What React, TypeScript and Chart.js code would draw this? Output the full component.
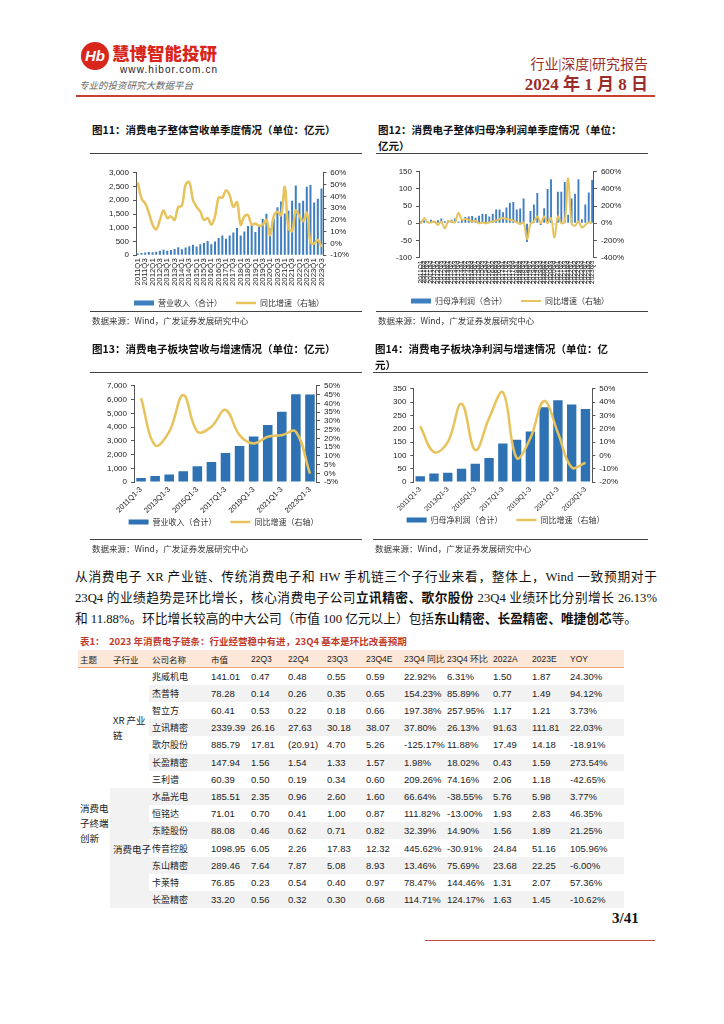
import React, { useEffect, useRef } from "react";
import { Chart, registerables } from "chart.js";
Chart.register(...registerables);

// ---------- DATA ----------
const quarterLabels = [
  "2011Q1","2011Q2","2011Q3","2011Q4","2012Q1","2012Q2","2012Q3","2012Q4",
  "2013Q1","2013Q2","2013Q3","2013Q4","2014Q1","2014Q2","2014Q3","2014Q4",
  "2015Q1","2015Q2","2015Q3","2015Q4","2016Q1","2016Q2","2016Q3","2016Q4",
  "2017Q1","2017Q2","2017Q3","2017Q4","2018Q1","2018Q2","2018Q3","2018Q4",
  "2019Q1","2019Q2","2019Q3","2019Q4","2020Q1","2020Q2","2020Q3","2020Q4",
  "2021Q1","2021Q2","2021Q3","2021Q4","2022Q1","2022Q2","2022Q3","2022Q4",
  "2023Q1","2023Q2","2023Q3",
];
const revenueQ = [
  60, 80, 100, 120, 110, 130, 160, 200, 160, 190, 230, 290, 220, 280, 330, 380,
  320, 400, 450, 520, 400, 500, 630, 720, 600, 720, 830, 990, 720, 860, 1060, 1100,
  850, 1050, 1320, 1510, 980, 1330, 1750, 1960, 1520, 1620, 1980, 2540, 1900, 1980, 2490, 2560,
  1920, 2060, 2430,
];
const revenueYoY = [
  52, 38, 34, 26, 16, 12, 20, 28, 21.5, 23, 20, 31, 32, 50, 52, 37,
  31, 27, 20, 21.5, 16, 23, 39, 39, 45, 41, 31, 35, 16, 23, 24, 16,
  17, 15, 16, 20, 7, 23, 27, 24, 48, 13, 10.5, 28, 23, 19, 26, 1,
  0, 3, -3,
];
const netProfitQ = [
  5, 8, 6, 10, 4, 9, 14, 6, 8, 10, 14, 5, 12, 18, 20, 21,
  16, 22, 28, 27, 20, 28, 40, 40, 32, 46, 60, 62, 40, 43, 72, -55,
  36, 55, 88, -5, 44, 100, 128, -3, 92, 92, 120, 25, 72, 86, 128, 12,
  55, 90, 126,
];
const netProfitYoY = [
  -10, 60, 10, 10, 20, -20, 20, -60, 20, 20, 10, 120, 40, 50, 40, 20,
  30, 0, 10, 0, 10, 20, 30, 50, 60, 50, 40, 30, 10, -10, 10, -185,
  -10, 20, 80, 0, 80, 0, 60, -165, 80, 0, 20, 525, 0, -30, 20, -50,
  -20, 10, 0,
];
const periodLabels = [
  "2011Q1-3","2012Q1-3","2013Q1-3","2014Q1-3","2015Q1-3","2016Q1-3","2017Q1-3",
  "2018Q1-3","2019Q1-3","2020Q1-3","2021Q1-3","2022Q1-3","2023Q1-3",
];
const sectorRevenue = [290, 440, 540, 780, 1150, 1460, 2120, 2630, 3320, 4150, 5120, 6390, 6370];
const sectorRevenueYoY = [42.9, 16, 23.8, 44.8, 23.8, 26.6, 36.2, 21.8, 17, 20.9, 21.8, 23.8, -0.2];
const sectorProfit = [22, 32, 35, 50, 69, 90, 145, 159, 190, 281, 307, 291, 274];
const sectorProfitYoY = [22, 2.5, 10, 38.8, 4, 28, 47.5, -1.8, 13, 40.8, 17, -9, -5.5];

const tableHeaders = ["主题","子行业","公司名称","市值","22Q3","22Q4","23Q3","23Q4E","23Q4 同比","23Q4 环比","2022A","2023E","YOY"];
const companies = ["兆威机电","杰普特","智立方","立讯精密","歌尔股份","长盈精密","三利谱","水晶光电","恒铭达","东睦股份","传音控股","东山精密","卡莱特","长盈精密"];
const marketCap = ["141.01","78.28","60.41","2339.39","885.79","147.94","60.39","185.51","71.01","88.08","1098.95","289.46","76.85","33.20"];
const profit22Q3 = ["0.47","0.14","0.53","26.16","17.81","1.56","0.50","2.35","0.70","0.46","6.05","7.64","0.23","0.56"];
const profit22Q4 = ["0.48","0.26","0.22","27.63","(20.91)","1.54","0.19","0.96","0.41","0.62","2.26","7.87","0.54","0.32"];
const profit23Q3 = ["0.55","0.35","0.18","30.18","4.70","1.33","0.34","2.60","1.00","0.71","17.83","5.08","0.40","0.30"];
const profit23Q4E = ["0.59","0.65","0.66","38.07","5.26","1.57","0.60","1.60","0.87","0.82","12.32","8.93","0.97","0.68"];
const yoy23Q4 = ["22.92%","154.23%","197.38%","37.80%","-125.17%","1.98%","209.26%","66.64%","111.82%","32.39%","445.62%","13.46%","78.47%","114.71%"];
const qoq23Q4 = ["6.31%","85.89%","257.95%","26.13%","11.88%","18.02%","74.16%","-38.55%","-13.00%","14.90%","-30.91%","75.69%","144.46%","124.17%"];
const profit2022A = ["1.50","0.77","1.17","91.63","17.49","0.43","2.06","5.76","1.93","1.56","24.84","23.68","1.31","1.63"];
const profit2023E = ["1.87","1.49","1.21","111.81","14.18","1.59","1.18","5.98","2.83","1.89","51.16","22.25","2.07","1.45"];
const yoyYear = ["24.30%","94.12%","3.73%","22.03%","-18.91%","273.54%","-42.65%","3.77%","46.35%","21.25%","105.96%","-6.00%","57.36%","-10.62%"];

// ---------- STYLE ----------
const NUM = "'Liberation Sans', Arial, sans-serif";
const CJK = "'Noto Sans CJK SC', 'Liberation Sans', sans-serif";
const SERIF = "'Liberation Serif', 'Noto Sans CJK SC', serif";
const GOLD = "#e6c35c";
const TICK = "#222";

type AxisSpec = { min: number; max: number; step: number; pct?: boolean; comma?: boolean };
type Params = {
  labels: string[]; bars: number[]; line: number[];
  barName: string; lineName: string;
  left: AxisSpec; right: AxisSpec;
  xEvery: number; xRot: number; xFont: number;
  barPct: number; lineWidth: number; tension: number; barColor: string;
  padding: { left: number; right: number; top: number; bottom: number };
  legendPad: number;
};

function fmt(v: number, a: AxisSpec) {
  if (a.pct) return v + "%";
  if (a.comma) return v.toLocaleString("en-US");
  return String(v);
}

function yAxis(a: AxisSpec, pos: "left" | "right") {
  return {
    position: pos,
    min: a.min,
    max: a.max,
    ticks: {
      stepSize: a.step,
      autoSkip: false,
      font: { family: NUM, size: 8 },
      color: TICK,
      padding: 4,
      callback: (v: any) => fmt(Number(v), a),
    },
    grid: { drawOnChartArea: false, drawTicks: true, tickLength: 3, color: "#555" },
    border: { display: true, color: "#555", width: 1 },
  };
}

function buildConfig(p: Params): any {
  return {
    type: "bar",
    data: {
      labels: p.labels,
      datasets: [
        {
          type: "bar", label: p.barName, data: p.bars, backgroundColor: p.barColor,
          borderWidth: 0, yAxisID: "y", order: 2, barPercentage: p.barPct,
          categoryPercentage: 1, pointStyle: "rect",
        },
        {
          type: "line", label: p.lineName, data: p.line, borderColor: GOLD,
          backgroundColor: GOLD, borderWidth: p.lineWidth, pointRadius: 0,
          pointStyle: "line", tension: p.tension, yAxisID: "y1", order: 1,
        },
      ],
    },
    options: {
      animation: false,
      responsive: true,
      maintainAspectRatio: false,
      layout: { padding: p.padding },
      plugins: {
        tooltip: { enabled: false },
        legend: {
          position: "bottom",
          labels: {
            usePointStyle: true, pointStyleWidth: 20, boxWidth: 20, boxHeight: 5,
            padding: p.legendPad, color: "#333", font: { family: CJK, size: 8 },
            sort: (a: any, b: any) => a.datasetIndex - b.datasetIndex,
          },
        },
      },
      scales: {
        x: {
          grid: { display: false, drawTicks: false },
          border: { display: false },
          ticks: {
            autoSkip: false, maxRotation: p.xRot, minRotation: p.xRot,
            font: { family: NUM, size: p.xFont }, color: TICK, padding: 3,
            callback: (_v: any, i: number) => (i % p.xEvery === 0 ? p.labels[i] : ""),
          },
        },
        y: yAxis(p.left, "left"),
        y1: yAxis(p.right, "right"),
      },
    },
  };
}

function DualChart({ params, box }: { params: Params; box: { left: number; top: number; width: number; height: number } }) {
  const ref = useRef<HTMLCanvasElement>(null);
  useEffect(() => {
    const chart = new Chart(ref.current as HTMLCanvasElement, buildConfig(params));
    return () => chart.destroy();
  }, []);
  return (
    <div style={{ position: "absolute", ...box }}>
      <canvas ref={ref} />
    </div>
  );
}

const abs = (left: number, top: number, extra: React.CSSProperties = {}): React.CSSProperties => ({
  position: "absolute", left, top, whiteSpace: "nowrap", ...extra,
});

function HLine({ left, top, width, color = "#444", h = 1 }: { left: number; top: number; width: number; color?: string; h?: number }) {
  return <div style={{ position: "absolute", left, top, width, height: h, background: color }} />;
}

const titleStyle: React.CSSProperties = { fontFamily: CJK, fontWeight: 700, fontSize: 10.5, color: "#111", lineHeight: "16px" };
const srcStyle: React.CSSProperties = { fontFamily: CJK, fontSize: 8.5, color: "#333" };

const colX = [80, 113, 152, 211, 251, 288, 327, 366, 404, 447, 493, 532, 570];
const TABLE_L = 78, TABLE_R = 624, HEAD_TOP = 650, HEAD_H = 17, ROW_TOP = 667.5, ROW_H = 17.2;
const STRIPE_L = 149, MERGE_L = 110;

function Table() {
  const cols = [marketCap, profit22Q3, profit22Q4, profit23Q3, profit23Q4E, yoy23Q4, qoq23Q4, profit2022A, profit2023E, yoyYear];
  const cells: React.ReactNode[] = [];
  companies.forEach((_, r) => {
    if (r % 2 === 1) {
      cells.push(<div key={"s" + r} style={{ position: "absolute", left: STRIPE_L, top: ROW_TOP + r * ROW_H, width: TABLE_R - STRIPE_L, height: ROW_H, background: "#f2f2f2" }} />);
    }
  });
  cells.push(<div key="merged" style={{ position: "absolute", left: MERGE_L, top: ROW_TOP + 7 * ROW_H, width: STRIPE_L - MERGE_L, height: 7 * ROW_H, background: "#f2f2f2" }} />);
  cells.push(<div key="hbg" style={{ position: "absolute", left: TABLE_L, top: HEAD_TOP, width: TABLE_R - TABLE_L, height: HEAD_H, background: "#fce7d8", borderBottom: "1.5px solid #eea477" }} />);
  tableHeaders.forEach((h, i) => {
    cells.push(<div key={"h" + i} style={abs(colX[i], HEAD_TOP + 2, { fontFamily: i < 4 ? CJK : NUM, fontSize: 8.5, color: "#222", lineHeight: "14px" })}>{h}</div>);
  });
  companies.forEach((c, r) => {
    const y = ROW_TOP + r * ROW_H + 2;
    cells.push(<div key={"c" + r} style={abs(colX[2], y, { fontFamily: CJK, fontSize: 9, color: "#222", lineHeight: "14px" })}>{c}</div>);
    cols.forEach((col, k) => {
      cells.push(<div key={"v" + r + "-" + k} style={abs(colX[3 + k], y, { fontFamily: NUM, fontSize: 9.5, color: "#222", lineHeight: "14px" })}>{col[r]}</div>);
    });
  });
  cells.push(<div key="xr" style={abs(colX[1], ROW_TOP + 3 * ROW_H - 6, { fontFamily: CJK, fontSize: 9.5, color: "#222", lineHeight: "15px" })}>XR 产业<br />链</div>);
  cells.push(<div key="ce" style={abs(colX[1], ROW_TOP + 10 * ROW_H + 2, { fontFamily: CJK, fontSize: 9.5, color: "#222", lineHeight: "14px" })}>消费电子</div>);
  cells.push(<div key="zt" style={abs(colX[0], 801, { fontFamily: CJK, fontSize: 9.5, color: "#222", lineHeight: "15px" })}>消费电<br />子终端<br />创新</div>);
  return <>{cells}</>;
}

const SP = "\u3000";
const chart11: Params = {
  labels: quarterLabels, bars: revenueQ, line: revenueYoY,
  barName: "营业收入（合计）" + SP, lineName: "同比增速（右轴）",
  left: { min: 0, max: 3000, step: 500, comma: true }, right: { min: -10, max: 60, step: 10, pct: true },
  xEvery: 2, xRot: 90, xFont: 7.8, barPct: 0.55, lineWidth: 2.5, tension: 0.4, barColor: "#3f7fc0",
  padding: { left: 13, right: 7, top: 8, bottom: 0 }, legendPad: 10,
};
const chart12: Params = {
  labels: quarterLabels, bars: netProfitQ, line: netProfitYoY,
  barName: "归母净利润（合计）" + SP, lineName: "同比增速（右轴）",
  left: { min: -100, max: 150, step: 50 }, right: { min: -400, max: 600, step: 200, pct: true },
  xEvery: 1, xRot: 90, xFont: 6.6, barPct: 0.55, lineWidth: 2, tension: 0.4, barColor: "#3f7fc0",
  padding: { left: 12, right: 8, top: 7, bottom: 0 }, legendPad: 10,
};
const chart13: Params = {
  labels: periodLabels, bars: sectorRevenue, line: sectorRevenueYoY,
  barName: "营业收入（合计）" + SP + SP + " ", lineName: "同比增速（右轴）",
  left: { min: 0, max: 7000, step: 1000, comma: true }, right: { min: -5, max: 50, step: 5, pct: true },
  xEvery: 2, xRot: 45, xFont: 7.5, barPct: 0.68, lineWidth: 2.5, tension: 0.4, barColor: "#2e72b3",
  padding: { left: 11, right: 6, top: 6, bottom: 0 }, legendPad: 0,
};
const chart14: Params = {
  labels: periodLabels, bars: sectorProfit, line: sectorProfitYoY,
  barName: "归母净利润（合计）" + SP + SP + " ", lineName: "同比增速（右轴）",
  left: { min: 0, max: 350, step: 50 }, right: { min: -20, max: 50, step: 10, pct: true },
  xEvery: 2, xRot: 45, xFont: 7, barPct: 0.68, lineWidth: 2.5, tension: 0.4, barColor: "#2e72b3",
  padding: { left: 11, right: 6, top: 6, bottom: 0 }, legendPad: 0,
};

export default function App() {
  return (
    <div style={{ position: "absolute", left: 0, top: 0, width: 724, height: 1024, background: "#fff", overflow: "hidden" }}>
      {/* header */}
      <div style={{ position: "absolute", left: 81, top: 42, width: 28, height: 28, borderRadius: "50%", background: "#d9261c", color: "#fff", fontFamily: NUM, fontWeight: 700, fontStyle: "italic", fontSize: 15, lineHeight: "28px", textAlign: "center" }}>Hb</div>
      <div style={abs(112, 42, { fontFamily: CJK, fontWeight: 900, fontSize: 17.5, color: "#d9261c", lineHeight: "22px" })}>慧博智能投研</div>
      <div style={abs(120, 64, { fontFamily: NUM, fontSize: 10, color: "#222", letterSpacing: 1.1 })}>www.hibor.com.cn</div>
      <div style={abs(79, 78, { fontFamily: CJK, fontSize: 9.5, color: "#666", fontStyle: "italic" })}>专业的投资研究大数据平台</div>
      <div style={abs(0, 53, { right: 76, left: "auto", fontFamily: SERIF, fontSize: 14, color: "#9b2d2a" } as any)}>行业|深度|研究报告</div>
      <div style={abs(0, 70, { right: 76, left: "auto", fontFamily: SERIF, fontWeight: 700, fontSize: 17, color: "#9b2d2a" } as any)}>2024 年 1 月 8 日</div>
      <HLine left={76} top={95} width={579} h={2} color="#c8402f" />

      {/* chart 11 */}
      <div style={abs(92, 122, titleStyle)}>图11：消费电子整体营收单季度情况（单位：亿元）</div>
      <HLine left={90} top={153} width={272} />
      <DualChart params={chart11} box={{ left: 92, top: 164, width: 268, height: 153 }} />
      <HLine left={90} top={311} width={272} />
      <div style={abs(92, 314, srcStyle)}>数据来源：Wind，广发证券发展研究中心</div>

      {/* chart 12 */}
      <div style={abs(378, 122, titleStyle)}>图12：消费电子整体归母净利润单季度情况（单位：<br />亿元）</div>
      <HLine left={376} top={153} width={272} />
      <DualChart params={chart12} box={{ left: 380, top: 163, width: 256, height: 152 }} />
      <HLine left={376} top={311} width={272} />
      <div style={abs(378, 314, srcStyle)}>数据来源：Wind，广发证券发展研究中心</div>

      {/* chart 13 */}
      <div style={abs(92, 341, titleStyle)}>图13：消费电子板块营收与增速情况（单位：亿元）</div>
      <HLine left={90} top={372} width={272} />
      <DualChart params={chart13} box={{ left: 92, top: 377, width: 258, height: 159 }} />
      <HLine left={90} top={539} width={272} />
      <div style={abs(92, 542, srcStyle)}>数据来源：Wind，广发证券发展研究中心</div>

      {/* chart 14 */}
      <div style={abs(375, 341, titleStyle)}>图14：消费电子板块净利润与增速情况（单位：亿<br />元）</div>
      <HLine left={373} top={372} width={275} />
      <DualChart params={chart14} box={{ left: 378, top: 380, width: 250, height: 154 }} />
      <HLine left={373} top={539} width={275} />
      <div style={abs(375, 542, srcStyle)}>数据来源：Wind，广发证券发展研究中心</div>

      {/* paragraph */}
      <div style={{ position: "absolute", left: 75, top: 567, width: 582, fontFamily: SERIF, fontSize: 12.7, lineHeight: "21px", color: "#111" }}>
        <div style={{ textAlign: "justify", textAlignLast: "justify" }}>从消费电子 XR 产业链、传统消费电子和 HW 手机链三个子行业来看，整体上，Wind 一致预期对于</div>
        <div style={{ textAlign: "justify", textAlignLast: "justify" }}>23Q4 的业绩趋势是环比增长，核心消费电子公司<b>立讯精密、歌尔股份</b> 23Q4 业绩环比分别增长 26.13%</div>
        <div style={{ whiteSpace: "nowrap" }}>和 11.88%。环比增长较高的中大公司（市值 100 亿元以上）包括<b>东山精密、长盈精密、唯捷创芯</b>等。</div>
      </div>

      {/* table */}
      <div style={abs(80, 634, { fontFamily: CJK, fontSize: 9.5, color: "#c0392b", fontWeight: 700 })}>表1：&nbsp;&nbsp;2023 年消费电子链条：行业经营稳中有进，23Q4 基本是环比改善预期</div>
      <Table />

      {/* footer */}
      <div style={abs(612, 910, { fontFamily: SERIF, fontWeight: 700, fontSize: 15, color: "#111" })}>3/41</div>
      <HLine left={425} top={940} width={230} h={1} color="#c0504d" />
    </div>
  );
}
